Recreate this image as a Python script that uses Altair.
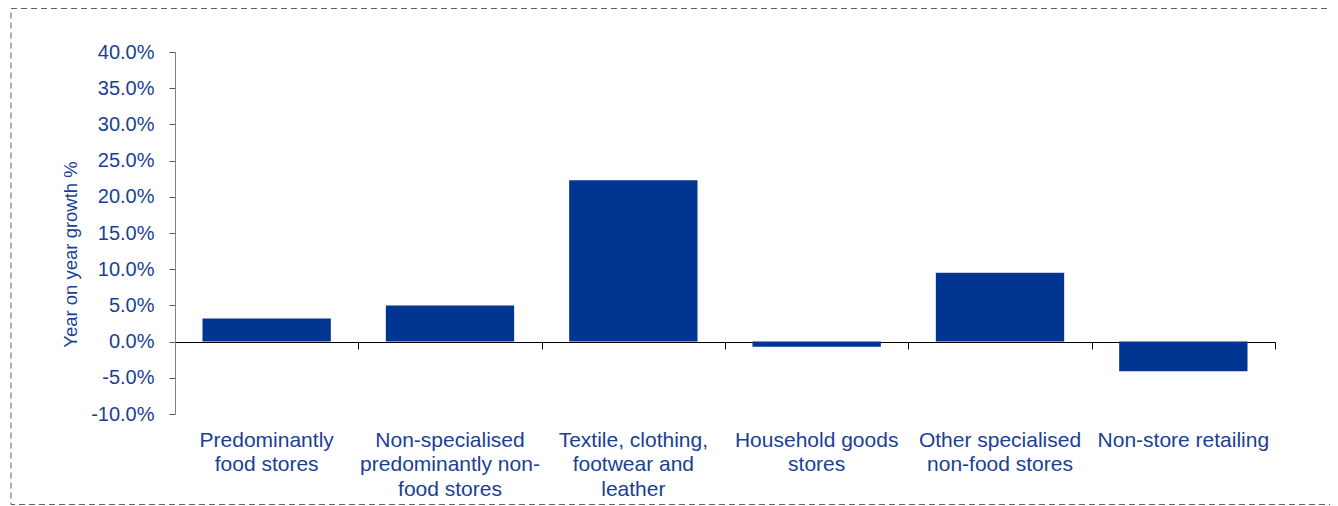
import altair as alt
import pandas as pd

categories = [
    "Predominantly|food stores",
    "Non-specialised|predominantly non-|food stores",
    "Textile, clothing,|footwear and|leather",
    "Household goods|stores",
    "Other specialised|non-food stores",
    "Non-store retailing",
]
growth = [0.032, 0.050, 0.223, -0.007, 0.095, -0.041]
y_ticks = [-0.10, -0.05, 0.0, 0.05, 0.10, 0.15, 0.20, 0.25, 0.30, 0.35, 0.40]

df = pd.DataFrame({"category": categories, "growth": growth})

BLUE = "#003591"
TEXT = "#1A3F94"
FONT = "Liberation Sans"

W, H = 1100, 362

x_scale = alt.Scale(paddingInner=0.3, paddingOuter=0.15)
y_scale = alt.Scale(domain=[-0.10, 0.40], nice=False)

base = alt.Chart(df)

bars = base.mark_bar(color=BLUE).encode(
    x=alt.X("category:N", sort=categories, scale=x_scale,
            axis=alt.Axis(labels=False, title=None, domain=True, domainColor="#000000",
                          ticks=True, tickOffset=W / len(categories) / 2, tickSize=7,
                          tickColor="#000000", offset=-72, orient="bottom")),
    y=alt.Y("growth:Q", scale=y_scale,
            axis=alt.Axis(values=y_ticks, format=".1%",
                          labelExpr="replace(datum.label, '\u2212', '-')",
                          title="Year on year growth %",
                          grid=False, domainColor="#808080", tickColor="#555555",
                          tickSize=6, labelPadding=15, labelColor=TEXT, titleColor=TEXT,
                          labelFontSize=20, titleFontSize=18.5, labelFont=FONT, titleFont=FONT,
                          titleFontWeight="normal", titlePadding=10, titleY=202)),
)

labels_layer = base.mark_bar(opacity=0).encode(
    x=alt.X("category:N", sort=categories, scale=x_scale,
            axis=alt.Axis(title=None, domain=False, ticks=False, labelAngle=0,
                          labelExpr="split(datum.label, '|')", labelColor=TEXT,
                          labelFont=FONT, labelFontSize=21, labelPadding=15,
                          labelLineHeight=24.5, labelLimit=300, orient="bottom")),
    y=alt.Y("growth:Q", scale=y_scale, axis=None),
)

border = alt.Chart(pd.DataFrame({"k": [0]})).mark_rect(
    fillOpacity=0, stroke="#556070", strokeDash=[6, 4], strokeWidth=1, clip=False
).encode(
    x=alt.value(-164), x2=alt.value(1175), y=alt.value(-43.5), y2=alt.value(452.5)
)

chart = alt.layer(labels_layer, bars, border).resolve_axis(
    x="independent", y="independent"
).properties(
    width=W, height=H,
    padding={"left": 167, "top": 44, "right": 55, "bottom": 92},
    autosize=alt.AutoSizeParams(type="none"),
).configure_view(stroke=None)

chart.save("out.html", embed_options={"renderer": "svg", "actions": False})
